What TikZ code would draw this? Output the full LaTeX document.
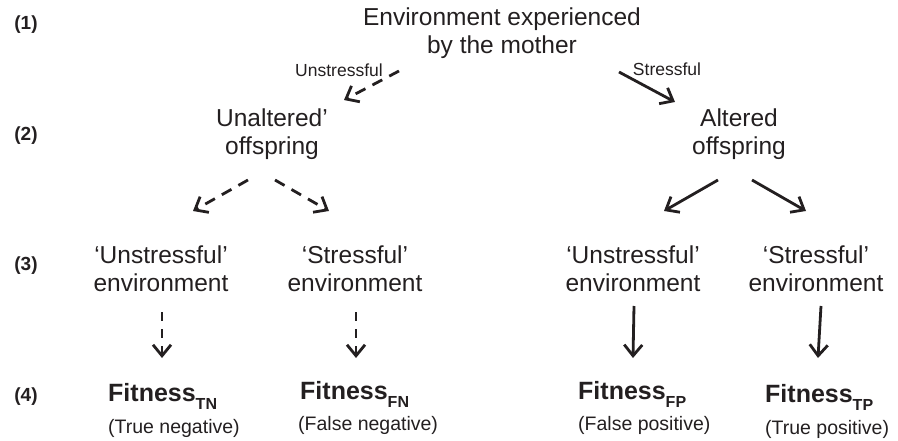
\documentclass[tikz,border=0pt]{standalone}
\usepackage{fontspec}
\setmainfont{Liberation Sans}
\usetikzlibrary{arrows.meta}
\definecolor{ink}{RGB}{35,31,32}
\tikzset{
  every node/.style={text=ink},
  main/.style={font=\fontsize{24.5}{28}\selectfont, align=center, inner sep=0pt},
  lvl/.style={font=\fontsize{19}{20}\selectfont\bfseries, inner sep=0pt},
  lab/.style={font=\fontsize{17.5}{20}\selectfont, inner sep=0pt},
  fit/.style={font=\fontsize{25}{28}\selectfont\bfseries, anchor=west, inner sep=0pt},
  par/.style={font=\fontsize{19.5}{22}\selectfont, anchor=west, inner sep=0pt},
  arr/.style={draw=ink, line width=2.8pt, -{Straight Barb[length=11pt,width=18pt,line width=2.8pt]}},
  darr/.style={arr, dash pattern=on 11pt off 8pt},
  vdarr/.style={arr, dash pattern=on 9pt off 8pt},
}
\newcommand{\fitsub}[1]{Fitness\raisebox{-8pt}{\fontsize{16}{16}\selectfont #1}}
\begin{document}
\begin{tikzpicture}[x=1pt,y=-1pt]
\useasboundingbox (0,0) rectangle (898,441);
% level labels
\node[lvl] (l1) at (26,25) {(1)};
\node[lvl] (l2) at (26,136) {(2)};
\node[lvl] (l3) at (26,266) {(3)};
\node[lvl] (l4) at (26,397) {(4)};
% nodes
\node[main] (top) at (502,33) {Environment experienced\\by the mother};
\node[main] (un) at (272,134) {Unaltered'\\offspring};
\node[main] (al) at (739,134) {Altered\\offspring};
\node[main] (e1) at (161,269) {`Unstressful'\\environment};
\node[main] (e2) at (355,269) {`Stressful'\\environment};
\node[main] (e3) at (633,269) {`Unstressful'\\environment};
\node[main] (e4) at (816,269) {`Stressful'\\environment};
% fitness
\node[fit] (f1) at (108,396) {\fitsub{TN}};
\node[par] (p1) at (108,428) {(True negative)};
\node[fit] (f2) at (300,394) {\fitsub{FN}};
\node[par] (p2) at (298,425) {(False negative)};
\node[fit] (f3) at (578,394) {\fitsub{FP}};
\node[par] (p3) at (578,425) {(False positive)};
\node[fit] (f4) at (765,397) {\fitsub{TP}};
\node[par] (p4) at (765,429) {(True positive)};
% edge labels
\node[lab] (lu) at (339,70) {Unstressful};
\node[lab] (ls) at (667,69) {Stressful};
% arrow endpoints
\coordinate (a1s) at (399,71); \coordinate (a1e) at (344,100);
\coordinate (a2s) at (619,72); \coordinate (a2e) at (675,102);
\coordinate (b1s) at (248,180); \coordinate (b1e) at (193,211);
\coordinate (b2s) at (275,180); \coordinate (b2e) at (329,211);
\coordinate (b3s) at (718,180); \coordinate (b3e) at (664,211);
\coordinate (b4s) at (752,180); \coordinate (b4e) at (806,211);
\coordinate (c1s) at (162,312); \coordinate (c1e) at (162,358);
\coordinate (c2s) at (356,312); \coordinate (c2e) at (356,358);
\coordinate (c3s) at (634,306); \coordinate (c3e) at (633,358);
\coordinate (c4s) at (821,306); \coordinate (c4e) at (818,358);
\draw[darr] (a1s) -- (a1e);
\draw[arr] (a2s) -- (a2e);
\draw[darr] (b1s) -- (b1e);
\draw[darr] (b2s) -- (b2e);
\draw[arr] (b3s) -- (b3e);
\draw[arr] (b4s) -- (b4e);
\draw[vdarr] (c1s) -- (c1e);
\draw[vdarr] (c2s) -- (c2e);
\draw[arr] (c3s) -- (c3e);
\draw[arr] (c4s) -- (c4e);
\end{tikzpicture}
\end{document}
